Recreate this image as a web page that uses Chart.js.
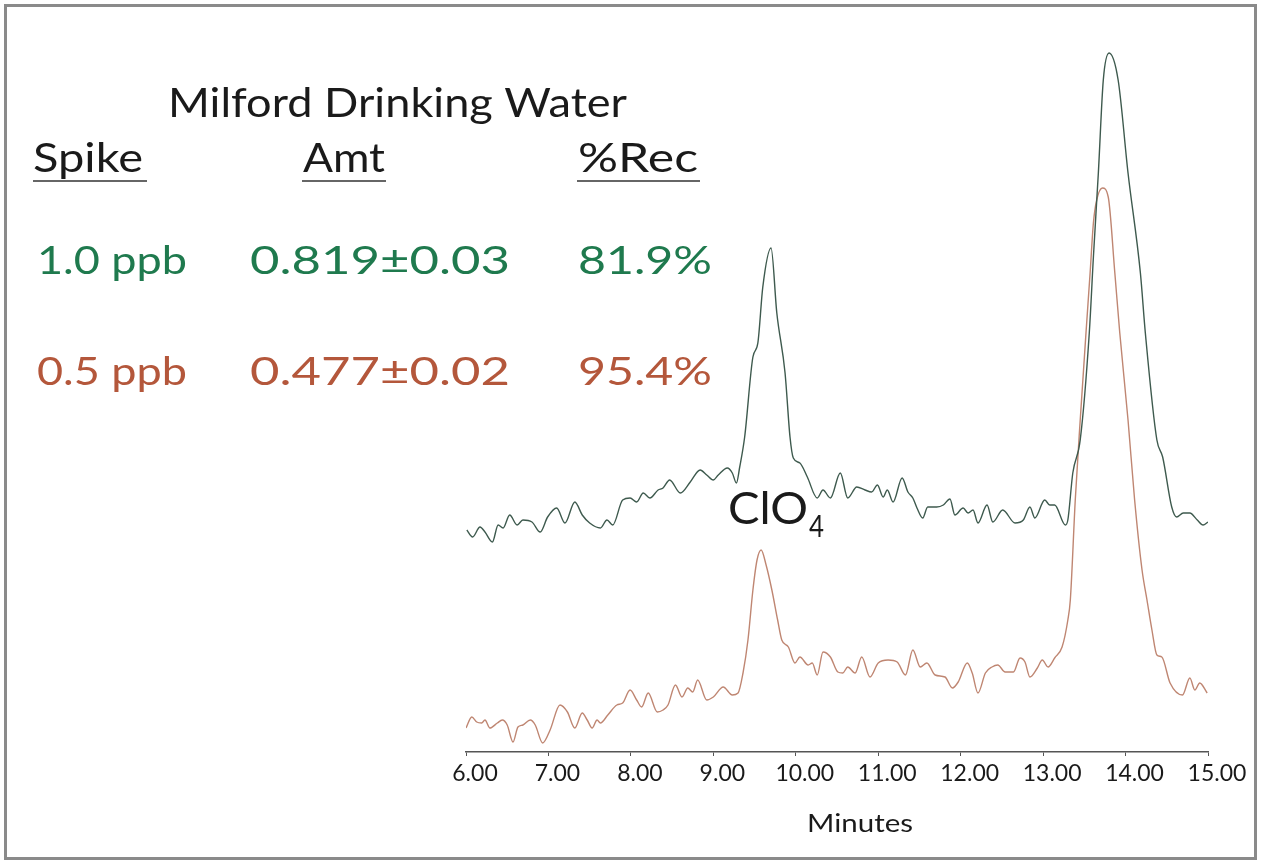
<!DOCTYPE html>
<html>
<head>
<meta charset="utf-8">
<script src="https://cdn.jsdelivr.net/npm/chart.js@4/dist/chart.umd.min.js"></script>
<style>
  html, body { margin: 0; padding: 0; background: #fff; }
  #wrap { position: relative; width: 1262px; height: 865px; }
  #frame {
    position: absolute; left: 4px; top: 4px; width: 1247px; height: 850px;
    border: 3px solid #8a8a8a; pointer-events: none;
  }
</style>
</head>
<body>
<div id="wrap">
  <canvas id="chart" width="1262" height="865"></canvas>
  <div id="frame"></div>
</div>
<script>
// retention time (minutes) and detector response (arbitrary units)
const greenTime = [6.01, 6.08, 6.17, 6.23, 6.32, 6.39, 6.45, 6.53, 6.62, 6.69, 6.80, 6.90, 6.99, 7.10, 7.20, 7.32, 7.41, 7.50, 7.63, 7.71, 7.78, 7.90, 7.99, 8.07, 8.15, 8.23, 8.33, 8.39, 8.47, 8.60, 8.72, 8.84, 8.92, 9.00, 9.06, 9.17, 9.23, 9.28, 9.32, 9.38, 9.48, 9.54, 9.60, 9.70, 9.77, 9.87, 9.93, 9.97, 10.05, 10.14, 10.26, 10.33, 10.42, 10.54, 10.63, 10.74, 10.84, 10.92, 10.99, 11.06, 11.11, 11.18, 11.29, 11.36, 11.42, 11.47, 11.54, 11.60, 11.71, 11.79, 11.87, 11.93, 12.03, 12.09, 12.15, 12.21, 12.32, 12.39, 12.51, 12.66, 12.76, 12.84, 12.90, 13.02, 13.08, 13.14, 13.27, 13.30, 13.36, 13.45, 13.56, 13.61, 13.67, 13.73, 13.80, 13.91, 14.03, 14.18, 14.24, 14.38, 14.45, 14.56, 14.62, 14.70, 14.78, 14.87, 14.94, 15.00];
const greenSignal = [222, 215, 225, 220, 210, 227, 224, 237, 227, 232, 230, 220, 235, 244, 229, 250, 237, 229, 224, 232, 227, 252, 254, 250, 259, 254, 262, 264, 272, 259, 270, 282, 277, 272, 277, 284, 279, 269, 285, 315, 395, 409, 465, 504, 439, 379, 315, 294, 289, 275, 254, 262, 254, 279, 254, 265, 262, 260, 267, 255, 262, 250, 274, 260, 254, 244, 234, 245, 245, 247, 253, 237, 244, 239, 242, 229, 247, 230, 242, 229, 232, 245, 234, 252, 247, 247, 227, 232, 279, 312, 419, 495, 579, 672, 699, 672, 579, 479, 419, 312, 295, 245, 235, 239, 239, 232, 227, 230];

const redTime = [6.00, 6.07, 6.13, 6.19, 6.23, 6.29, 6.38, 6.44, 6.50, 6.57, 6.63, 6.69, 6.78, 6.84, 6.93, 7.02, 7.14, 7.23, 7.32, 7.41, 7.47, 7.53, 7.59, 7.63, 7.72, 7.83, 7.90, 7.99, 8.07, 8.13, 8.21, 8.32, 8.39, 8.45, 8.54, 8.62, 8.69, 8.75, 8.81, 8.92, 9.00, 9.12, 9.23, 9.30, 9.36, 9.42, 9.48, 9.53, 9.58, 9.64, 9.71, 9.78, 9.83, 9.91, 9.99, 10.05, 10.15, 10.20, 10.26, 10.33, 10.42, 10.51, 10.57, 10.63, 10.72, 10.80, 10.90, 11.00, 11.12, 11.23, 11.33, 11.42, 11.51, 11.59, 11.69, 11.81, 11.90, 11.97, 12.08, 12.14, 12.21, 12.30, 12.38, 12.45, 12.54, 12.64, 12.72, 12.78, 12.84, 12.93, 12.99, 13.06, 13.14, 13.23, 13.30, 13.33, 13.39, 13.45, 13.52, 13.57, 13.61, 13.65, 13.72, 13.79, 13.87, 13.93, 14.03, 14.11, 14.20, 14.26, 14.32, 14.38, 14.44, 14.54, 14.69, 14.78, 14.84, 14.90, 14.99];
const redSignal = [24, 35, 30, 29, 32, 24, 29, 32, 27, 10, 25, 27, 32, 27, 9, 22, 47, 40, 24, 39, 32, 24, 32, 29, 37, 47, 49, 62, 52, 45, 59, 40, 42, 47, 67, 55, 64, 60, 72, 52, 55, 65, 57, 59, 79, 112, 162, 192, 202, 187, 162, 132, 112, 105, 89, 95, 87, 89, 77, 100, 95, 80, 79, 85, 79, 95, 75, 89, 92, 90, 77, 102, 85, 89, 77, 75, 64, 70, 89, 79, 59, 79, 85, 87, 80, 80, 94, 90, 75, 84, 92, 85, 94, 105, 132, 152, 252, 332, 419, 479, 529, 552, 564, 555, 479, 419, 332, 252, 182, 152, 122, 97, 95, 69, 57, 74, 62, 69, 59];

const xTicks = [6, 7, 8, 9, 10, 11, 12, 13, 14, 15];
const xTitle = "Minutes";

const heading = "Milford Drinking Water";
const columnHeads = ["Spike", "Amt", "%Rec"];
const spikeRows = [
    ["1.0 ppb", "0.819\u00b10.03", "81.9%"],
    ["0.5 ppb", "0.477\u00b10.02", "95.4%"],
];
const peakLabel = ["ClO", "4"];

const GREEN_TEXT = "#1f7a4e";
const RED_TEXT = "#b4573b";
const GREEN_LINE = "#3e5a4e";
const RED_LINE = "#bf8672";
const FONT = "Lato, 'Open Sans', sans-serif";

function series(times, values) {
    return times.map((t, i) => ({ x: t, y: values[i] }));
}

// draw text stretched to a target width, so the layout matches the wider original face
function fitText(ctx, text, left, baseline, width, size, color) {
    ctx.font = size + "px " + FONT;
    const w = ctx.measureText(text).width;
    ctx.save();
    ctx.fillStyle = color;
    ctx.textBaseline = "alphabetic";
    ctx.textAlign = "left";
    ctx.translate(left, baseline);
    ctx.scale(width / w, 1);
    ctx.fillText(text, 0, 0);
    ctx.restore();
}

const annotations = {
    id: "annotations",
    afterDraw(chart) {
        const ctx = chart.ctx;
        const dark = "#1a1a1a";

        fitText(ctx, heading, 168, 117, 459, 41, dark);

        const headLeft = [33, 303, 578];
        const headWidth = [110, 82, 120];
        const lineSpan = [[33, 147], [302, 386], [577, 700]];
        columnHeads.forEach((txt, i) => {
            fitText(ctx, txt, headLeft[i], 172, headWidth[i], 41, dark);
            ctx.save();
            ctx.strokeStyle = "#333";
            ctx.lineWidth = 1.5;
            ctx.beginPath();
            ctx.moveTo(lineSpan[i][0], 181);
            ctx.lineTo(lineSpan[i][1], 181);
            ctx.stroke();
            ctx.restore();
        });

        const colLeft = [37, 250, 578];
        const colWidth = [150, 260, 134];
        const rowBase = [274, 385];
        const rowColor = [GREEN_TEXT, RED_TEXT];
        spikeRows.forEach((row, r) => {
            row.forEach((txt, c) => {
                fitText(ctx, txt, colLeft[c], rowBase[r], colWidth[c], 39, rowColor[r]);
            });
        });

        fitText(ctx, peakLabel[0], 728, 524, 80, 44, dark);
        fitText(ctx, peakLabel[1], 809, 537, 15, 30, dark);

        // axis title, centred where the original sits
        fitText(ctx, xTitle, 860 - 53, 832, 106, 25, dark);
    },
};

new Chart(document.getElementById("chart"), {
    type: "line",
    data: {
        datasets: [
            {
                label: "1.0 ppb",
                data: series(greenTime, greenSignal),
                borderColor: GREEN_LINE,
                borderWidth: 1.4,
                pointRadius: 0,
                cubicInterpolationMode: "monotone",
                fill: false,
            },
            {
                label: "0.5 ppb",
                data: series(redTime, redSignal),
                borderColor: RED_LINE,
                borderWidth: 1.4,
                pointRadius: 0,
                cubicInterpolationMode: "monotone",
                fill: false,
            },
        ],
    },
    options: {
        responsive: false,
        animation: false,
        devicePixelRatio: 1,
        layout: { padding: { left: 466, right: 54, top: 52, bottom: 0 } },
        plugins: {
            legend: { display: false },
            tooltip: { enabled: false },
        },
        scales: {
            x: {
                type: "linear",
                min: 6,
                max: 15,
                afterBuildTicks: (scale) => {
                    scale.ticks = xTicks.map((v) => ({ value: v }));
                },
                afterFit: (scale) => {
                    scale.height = 113;
                },
                border: { display: true, color: "#555", width: 1.5 },
                grid: { drawOnChartArea: false, drawTicks: true, tickLength: 4, color: "#555" },
                ticks: {
                    color: "#1a1a1a",
                    font: { family: FONT, size: 23 },
                    padding: 4,
                    labelOffset: 9,
                    maxRotation: 0,
                    autoSkip: false,
                    callback: (v) => Number(v).toFixed(2),
                },
            },
            y: {
                display: false,
                min: 0,
                max: 700,
            },
        },
    },
    plugins: [annotations],
});
</script>
</body>
</html>
